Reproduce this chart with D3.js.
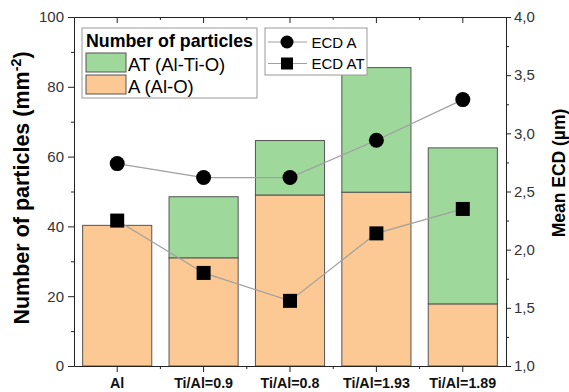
<!DOCTYPE html>
<html lang="en">
<head>
	<meta charset="utf-8">
	<title>Particles and ECD</title>
	<script src="https://d3js.org/d3.v7.min.js"></script>
	<style type="text/css">
		body { margin: 0; background: #fff; }
		svg { font-family: "Liberation Sans", Arial, sans-serif; }
		.axis text { font-size: 15px; fill: #333; }
		.axis path, .axis line { stroke: #222; }
	</style>
</head>
<body>
	<script type="text/javascript">
	// data
	var categories = ["Al", "Ti/Al=0.9", "Ti/Al=0.8", "Ti/Al=1.93", "Ti/Al=1.89"];
	var countA = [40.3, 31.0, 49.0, 49.8, 17.8];      // A (Al-O), bottom part
	var countAT = [0, 17.5, 15.6, 35.7, 44.7];        // AT (Al-Ti-O), stacked on top
	var ecdA = [2.74, 2.62, 2.62, 2.94, 3.29];
	var ecdAT = [2.25, 1.80, 1.56, 2.14, 2.35];
	var leftTicks = [0, 20, 40, 60, 80, 100];
	var rightTicks = [1.0, 1.5, 2.0, 2.5, 3.0, 3.5, 4.0];

	var green = "#9ed89b";
	var orange = "#fcc893";
	var gray = "#a0a0a0";

	var w = 569, h = 392;
	var pLeft = 74, pRight = 506, pTop = 17, pBottom = 366;

	var svg = d3.select("body").append("svg")
		.attr("width", w)
		.attr("height", h);

	var xScale = d3.scaleBand().domain(categories).range([pLeft, pRight])
		.paddingInner(0.2).paddingOuter(0.1);
	var yScale = d3.scaleLinear().domain([0, 100]).range([pBottom, pTop]);
	var y2Scale = d3.scaleLinear().domain([1, 4]).range([pBottom, pTop]);
	var fmt = d3.format(".1f");

	// bars
	var bars = svg.append("g");
	categories.forEach(function(c, i) {
		bars.append("rect")
			.attr("x", xScale(c))
			.attr("y", yScale(countA[i]))
			.attr("width", xScale.bandwidth())
			.attr("height", yScale(0) - yScale(countA[i]))
			.attr("fill", orange)
			.attr("stroke", "#555")
			.attr("stroke-width", 1);
		if (countAT[i] > 0) {
			bars.append("rect")
				.attr("x", xScale(c))
				.attr("y", yScale(countA[i] + countAT[i]))
				.attr("width", xScale.bandwidth())
				.attr("height", yScale(countA[i]) - yScale(countA[i] + countAT[i]))
				.attr("fill", green)
				.attr("stroke", "#555")
				.attr("stroke-width", 1);
		}
	});

	// lines + markers
	var cx = function(d, i) { return xScale(categories[i]) + xScale.bandwidth() / 2; };
	var line = d3.line().x(cx).y(function(d) { return y2Scale(d); });
	[ecdA, ecdAT].forEach(function(s) {
		svg.append("path")
			.attr("d", line(s))
			.attr("fill", "none")
			.attr("stroke", gray)
			.attr("stroke-width", 1.2);
	});
	svg.append("g").selectAll("circle")
		.data(ecdA).enter().append("circle")
		.attr("cx", cx)
		.attr("cy", function(d) { return y2Scale(d); })
		.attr("r", 7.5)
		.attr("fill", "#000");
	svg.append("g").selectAll("rect")
		.data(ecdAT).enter().append("rect")
		.attr("x", function(d, i) { return cx(d, i) - 7; })
		.attr("y", function(d) { return y2Scale(d) - 7; })
		.attr("width", 14)
		.attr("height", 14)
		.attr("fill", "#000");

	// axes
	var minorX = categories.slice(1).map(function(c) { return xScale(c) - xScale.step() * 0.1; });

	var xAxis = svg.append("g").attr("class", "axis")
		.attr("transform", "translate(0," + pBottom + ")")
		.call(d3.axisBottom(xScale).tickSize(6).tickSizeOuter(0).tickPadding(6));
	xAxis.selectAll("text").style("font-weight", "bold").style("font-size", "14.3px").style("fill", "#111");
	minorX.forEach(function(x) {
		svg.append("line").attr("x1", x).attr("x2", x).attr("y1", pBottom).attr("y2", pBottom + 3).attr("stroke", "#222");
	});

	// top axis (inward ticks)
	svg.append("g").attr("class", "axis")
		.attr("transform", "translate(0," + pTop + ")")
		.call(d3.axisTop(xScale).tickSize(-6).tickSizeOuter(0).tickFormat(""));
	minorX.forEach(function(x) {
		svg.append("line").attr("x1", x).attr("x2", x).attr("y1", pTop).attr("y2", pTop + 3).attr("stroke", "#222");
	});

	svg.append("g").attr("class", "axis")
		.attr("transform", "translate(" + pLeft + ",0)")
		.call(d3.axisLeft(yScale).tickValues(d3.range(10, 100, 20)).tickSize(3).tickSizeOuter(0).tickFormat(""));
	svg.append("g").attr("class", "axis")
		.attr("transform", "translate(" + pLeft + ",0)")
		.call(d3.axisLeft(yScale).tickValues(leftTicks).tickSize(6).tickSizeOuter(0).tickPadding(4));

	svg.append("g").attr("class", "axis")
		.attr("transform", "translate(" + pRight + ",0)")
		.call(d3.axisRight(y2Scale).tickValues(d3.range(1.25, 4, 0.5)).tickSize(3).tickSizeOuter(0).tickFormat(""));
	svg.append("g").attr("class", "axis")
		.attr("transform", "translate(" + pRight + ",0)")
		.call(d3.axisRight(y2Scale).tickValues(rightTicks).tickSize(5).tickSizeOuter(0).tickPadding(3)
			.tickFormat(function(d) { return fmt(d).replace(".", ","); }));

	// axis titles
	var lt = svg.append("text")
		.attr("transform", "translate(29," + 188 + ") rotate(-90)")
		.attr("text-anchor", "middle")
		.style("font-size", "21.5px")
		.style("font-weight", "bold");
	lt.append("tspan").text("Number of particles (mm");
	lt.append("tspan").attr("dy", "-8").style("font-size", "14.3px").text("-2");
	lt.append("tspan").attr("dy", "8").text(")");

	svg.append("text")
		.attr("transform", "translate(565," + 173 + ") rotate(-90)")
		.attr("text-anchor", "middle")
		.style("font-size", "17.5px")
		.style("font-weight", "bold")
		.text("Mean ECD (µm)");

	// legend 1
	var lg = svg.append("g");
	lg.append("rect").attr("x", 82).attr("y", 28).attr("width", 175).attr("height", 70)
		.attr("fill", "#fff").attr("stroke", "#999");
	lg.append("text").attr("x", 86).attr("y", 47).style("font-size", "17.8px").style("font-weight", "bold")
		.text("Number of particles");
	[["AT (Al-Ti-O)", green], ["A (Al-O)", orange]].forEach(function(e, i) {
		lg.append("rect").attr("x", 86).attr("y", 53 + i * 22).attr("width", 40).attr("height", 19)
			.attr("fill", e[1]).attr("stroke", "#555");
		lg.append("text").attr("x", 128).attr("y", 70.5 + i * 22.5).style("font-size", "18.5px").text(e[0]);
	});

	// legend 2
	var lg2 = svg.append("g");
	lg2.append("rect").attr("x", 265).attr("y", 28).attr("width", 102).attr("height", 47)
		.attr("fill", "#fff").attr("stroke", "#999");
	["ECD A", "ECD AT"].forEach(function(t, i) {
		var yy = 42 + i * 21.5;
		lg2.append("line").attr("x1", 268).attr("x2", 307).attr("y1", yy).attr("y2", yy)
			.attr("stroke", gray).attr("stroke-width", 1.2);
		if (i === 0) {
			lg2.append("circle").attr("cx", 287).attr("cy", yy).attr("r", 6.5).attr("fill", "#000");
		} else {
			lg2.append("rect").attr("x", 281).attr("y", yy - 6).attr("width", 12).attr("height", 12).attr("fill", "#000");
		}
		lg2.append("text").attr("x", 311.5).attr("y", yy + 5.5).style("font-size", "15px").text(t);
	});
	</script>
</body>
</html>
